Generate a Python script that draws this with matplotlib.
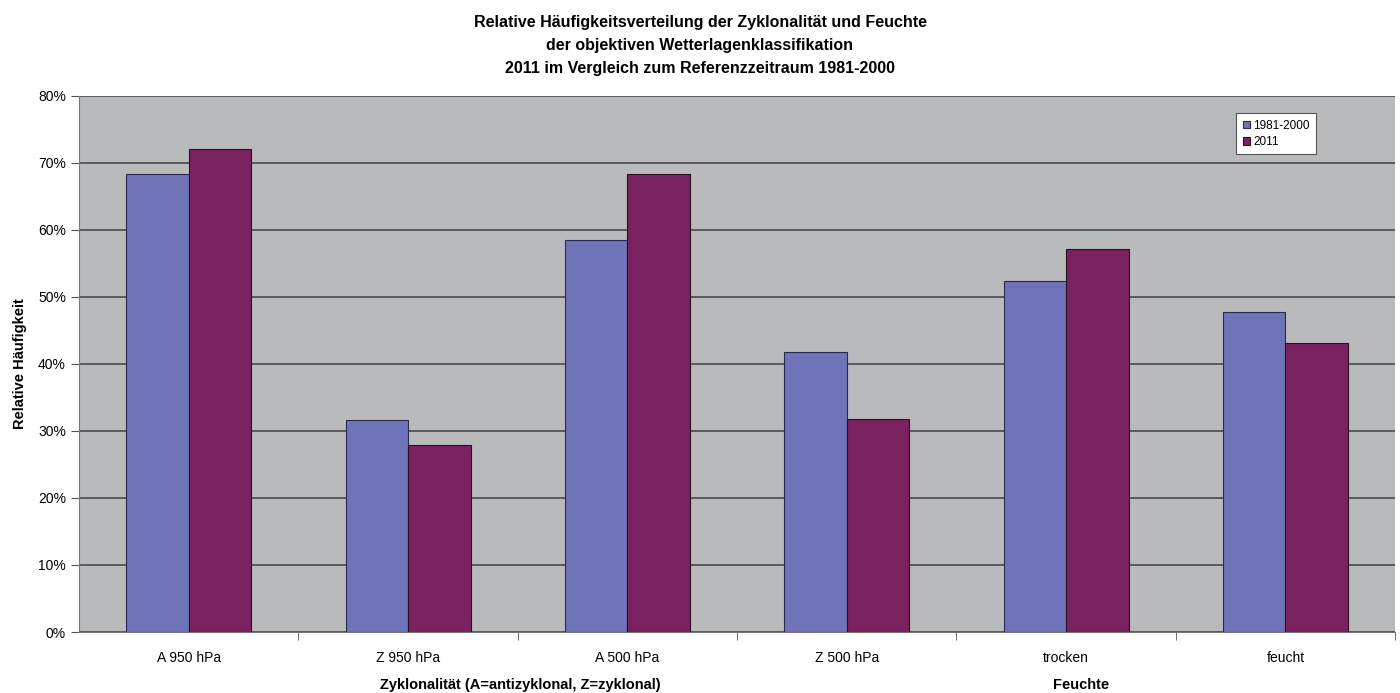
import numpy as np
import matplotlib.pyplot as plt
from matplotlib.ticker import PercentFormatter

plt.rcParams['font.family'] = ['Liberation Sans', 'DejaVu Sans']

# Daten
kategorien = ['A 950 hPa', 'Z 950 hPa', 'A 500 hPa', 'Z 500 hPa', 'trocken', 'feucht']
ref_1981_2000 = [68.3, 31.6, 58.5, 41.8, 52.3, 47.8]
jahr_2011 = [72.1, 27.9, 68.3, 31.8, 57.1, 43.1]

fig = plt.figure(figsize=(14, 6.93), dpi=100)
ax = fig.add_axes([0.0565, 0.088, 0.94, 0.774])

x = np.arange(len(kategorien))
w = 0.285
ax.bar(x - w / 2, ref_1981_2000, w, color='#6f74b8', edgecolor='#2a2a50', linewidth=0.8,
       label='1981-2000', zorder=3)
ax.bar(x + w / 2, jahr_2011, w, color='#7a2160', edgecolor='#2a1020', linewidth=0.8,
       label='2011', zorder=3)

ax.set_facecolor('#b9babc')
ax.set_xlim(-0.5, len(kategorien) - 0.5)
ax.set_ylim(0, 80)
ax.set_yticks(np.arange(0, 81, 10))
ax.yaxis.set_major_formatter(PercentFormatter(decimals=0))
ax.grid(axis='y', color='#4a4a4a', linewidth=1.2, zorder=1)
ax.set_xticks(x)
ax.set_xticklabels(kategorien, fontsize=10)
ax.set_xticks(np.arange(0.5, len(kategorien), 1), minor=True)
ax.tick_params(axis='x', which='major', length=0, pad=14)
ax.tick_params(axis='x', which='minor', length=6, color='#555555')
ax.tick_params(axis='y', length=6, color='#555555', labelsize=10)
for s in ['top', 'right']:
    ax.spines[s].set_visible(False)
for s in ['left', 'bottom']:
    ax.spines[s].set_color('#777777')

ax.set_ylabel('Relative Häufigkeit', fontsize=10.5, fontweight='bold', labelpad=8)

# zwei x-Achsentitel
ax.text(1.51, -0.085, 'Zyklonalität (A=antizyklonal, Z=zyklonal)', transform=ax.get_xaxis_transform(),
        ha='center', va='top', fontsize=10.5, fontweight='bold')
ax.text(4.07, -0.085, 'Feuchte', transform=ax.get_xaxis_transform(),
        ha='center', va='top', fontsize=10.5, fontweight='bold')

fig.suptitle('Relative Häufigkeitsverteilung der Zyklonalität und Feuchte\n'
             'der objektiven Wetterlagenklassifikation\n'
             '2011 im Vergleich zum Referenzzeitraum 1981-2000',
             y=0.978, fontsize=11.5, fontweight='bold', linespacing=1.65)

leg = ax.legend(loc='upper right', bbox_to_anchor=(0.9445, 0.978), fontsize=8.5, frameon=True,
                fancybox=False, edgecolor='#555555', framealpha=1, handlelength=0.6,
                handleheight=0.6, handletextpad=0.3, borderpad=0.55, labelspacing=0.35)
leg.get_frame().set_linewidth(0.8)

fig.savefig('out.png', dpi=100)
